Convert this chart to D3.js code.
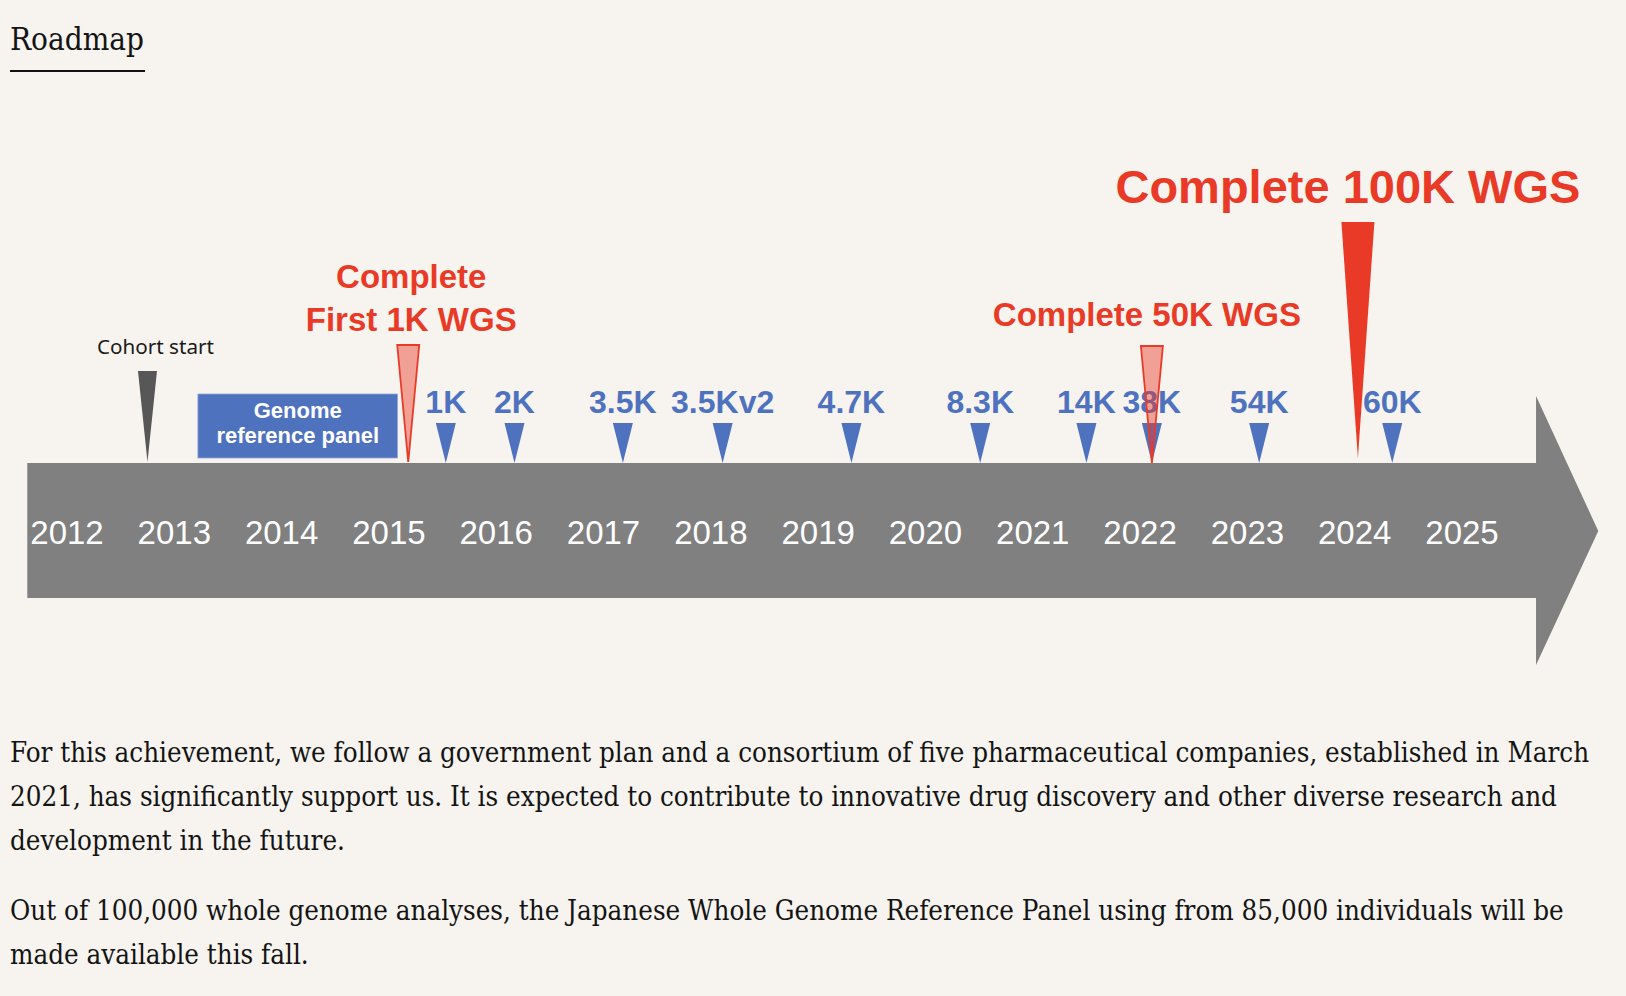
<!DOCTYPE html>
<html>
<head>
<meta charset="utf-8">
<script src="https://cdn.jsdelivr.net/npm/d3@7"></script>
<style>
  html, body { margin: 0; padding: 0; background: #f7f4ef; }
  svg { display: block; }
</style>
</head>
<body>
<svg id="chart" width="1626" height="996"></svg>
<script>
// ---------------- DATA ----------------
const titleText = "Roadmap";
const yearLabels = ["2012","2013","2014","2015","2016","2017","2018","2019","2020","2021","2022","2023","2024","2025"];
const yearValues = [2012,2013,2014,2015,2016,2017,2018,2019,2020,2021,2022,2023,2024,2025];

const milestoneLabels = ["1K","2K","3.5K","3.5Kv2","4.7K","8.3K","14K","38K","54K","60K"];
const milestoneDates  = [2015.53, 2016.17, 2017.18, 2018.11, 2019.31, 2020.51, 2021.50, 2022.11, 2023.11, 2024.35];

const cohortLabel = "Cohort start";
const cohortDate = 2012.75;

const panelLabel = ["Genome", "reference panel"];
const panelSpan = [2013.22, 2015.08];

const completionLabels = [["Complete", "First 1K WGS"], ["Complete 50K WGS"], ["Complete 100K WGS"]];
const completionDates  = [2015.18, 2022.11, 2024.03];

const arrowSpan = [2011.63, 2025.69, 2026.27]; // start, head base, tip

const paragraphs = [
  ["For this achievement, we follow a government plan and a consortium of five pharmaceutical companies, established in March",
   "2021, has significantly support us. It is expected to contribute to innovative drug discovery and other diverse research and",
   "development in the future."],
  ["Out of 100,000 whole genome analyses, the Japanese Whole Genome Reference Panel using from 85,000 individuals will be",
   "made available this fall."]
];

// ---------------- STYLE / LAYOUT ----------------
const C = {
  bg: "#f7f4ef", gray: "#808080", dark: "#575757", blue: "#4f72bf",
  red: "#e93a28", text: "#141414"
};
const sans = "'Liberation Sans', Arial, sans-serif";
const serif = "'DejaVu Serif Condensed', 'DejaVu Serif', serif";

const svg = d3.select("#chart");
svg.append("rect").attr("width", 1626).attr("height", 996).attr("fill", C.bg);

const x = d3.scaleLinear().domain([2012, 2025]).range([67, 1462]);

const bodyTop = 463, bodyBot = 598, headTop = 396, headBot = 665, midY = 531;

// ---- Title ----
const title = svg.append("text").attr("x", 10).attr("y", 50)
  .attr("font-family", serif).attr("font-size", 28).attr("fill", C.text)
  .style("font-stretch", "condensed").text(titleText);
{
  const w = title.node().getComputedTextLength();
  title.attr("font-size", 28 * 134 / w);
}
svg.append("rect").attr("x", 10).attr("y", 70).attr("width", 135).attr("height", 2).attr("fill", "#111");

// ---- Arrow ----
const arrowPath = d3.path();
arrowPath.moveTo(x(arrowSpan[0]), bodyTop);
arrowPath.lineTo(x(arrowSpan[1]), bodyTop);
arrowPath.lineTo(x(arrowSpan[1]), headTop);
arrowPath.lineTo(x(arrowSpan[2]), midY);
arrowPath.lineTo(x(arrowSpan[1]), headBot);
arrowPath.lineTo(x(arrowSpan[1]), bodyBot);
arrowPath.lineTo(x(arrowSpan[0]), bodyBot);
arrowPath.closePath();
svg.append("path").attr("d", arrowPath.toString()).attr("fill", C.gray);

// ---- Year labels ----
svg.append("g").selectAll("text").data(yearValues).join("text")
  .attr("x", d => x(d)).attr("y", 544)
  .attr("text-anchor", "middle")
  .attr("font-family", sans).attr("font-size", 33)
  .attr("fill", "#ffffff")
  .text((d, i) => yearLabels[i]);

// helper for downward triangle
function tri(cx, top, bottom, w) {
  const p = d3.path();
  p.moveTo(cx - w / 2, top);
  p.lineTo(cx + w / 2, top);
  p.lineTo(cx, bottom);
  p.closePath();
  return p.toString();
}

// ---- Cohort start ----
svg.append("path").attr("d", tri(x(cohortDate), 371, 462, 19)).attr("fill", C.dark);
const coh = svg.append("text").attr("x", x(cohortDate) + 8).attr("y", 354)
  .attr("text-anchor", "middle")
  .attr("font-family", "'Noto Sans', sans-serif").attr("font-size", 19)
  .attr("fill", "#1a1a1a").text(cohortLabel);
{
  const w = coh.node().getComputedTextLength();
  coh.attr("font-size", 19 * 117 / w);
}

// ---- Genome reference panel box ----
const px0 = x(panelSpan[0]), px1 = x(panelSpan[1]);
svg.append("rect").attr("x", px0).attr("y", 394).attr("width", px1 - px0).attr("height", 64)
  .attr("fill", C.blue).attr("stroke", "#8fa6d8").attr("stroke-width", 0.8);
svg.append("g").selectAll("text").data(panelLabel).join("text")
  .attr("x", (px0 + px1) / 2).attr("y", (d, i) => 418 + i * 25)
  .attr("text-anchor", "middle")
  .attr("font-family", sans).attr("font-weight", "bold").attr("font-size", 22)
  .attr("fill", "#ffffff").text(d => d);

// ---- Blue milestones ----
const ms = svg.append("g");
ms.selectAll("path").data(milestoneDates).join("path")
  .attr("d", d => tri(x(d), 423, 463, 20))
  .attr("fill", C.blue);
ms.selectAll("text").data(milestoneDates).join("text")
  .attr("x", (d, i) => x(d)).attr("y", 413)
  .attr("text-anchor", "middle")
  .attr("font-family", sans).attr("font-weight", "bold").attr("font-size", 32)
  .attr("fill", C.blue)
  .text((d, i) => milestoneLabels[i]);

// ---- Red completion markers ----
const compLayout = [
  { top: 345, bottom: 462, w: 22, solid: false, fs: 33, textY: 288, lh: 43, dx: 3 },
  { top: 346, bottom: 463, w: 22, solid: false, fs: 33, textY: 326, lh: 0,  dx: -5 },
  { top: 222, bottom: 458, w: 33, solid: true,  fs: 47, textY: 203, lh: 0,  dx: -10 }
];
const cg = svg.append("g");
completionDates.forEach((d, i) => {
  const L = compLayout[i];
  const t = cg.append("path").attr("d", tri(x(d), L.top, L.bottom, L.w));
  if (L.solid) {
    t.attr("fill", C.red);
  } else {
    t.attr("fill", C.red).attr("fill-opacity", 0.45)
     .attr("stroke", C.red).attr("stroke-width", 1.8).attr("stroke-linejoin", "miter");
  }
  cg.append("g").selectAll("text").data(completionLabels[i]).join("text")
    .attr("x", x(d) + L.dx).attr("y", (s, j) => L.textY + j * L.lh)
    .attr("text-anchor", "middle")
    .attr("font-family", sans).attr("font-weight", "bold").attr("font-size", L.fs)
    .attr("fill", C.red).text(s => s);
});

// ---- Paragraphs ----
const paraBaselines = [[762, 806, 850], [920, 964]];
const pg = svg.append("g").attr("font-family", serif).style("font-stretch", "condensed").attr("fill", C.text);
let probe = pg.append("text").attr("font-size", 24).text(paragraphs[0][0]);
const pw = probe.node().getComputedTextLength();
probe.remove();
const pfs = 24 * 1580 / pw;
paragraphs.forEach((lines, pi) => {
  pg.append("g").selectAll("text").data(lines).join("text")
    .attr("x", 10).attr("y", (s, j) => paraBaselines[pi][j])
    .attr("font-size", pfs).text(s => s);
});
</script>
</body>
</html>
